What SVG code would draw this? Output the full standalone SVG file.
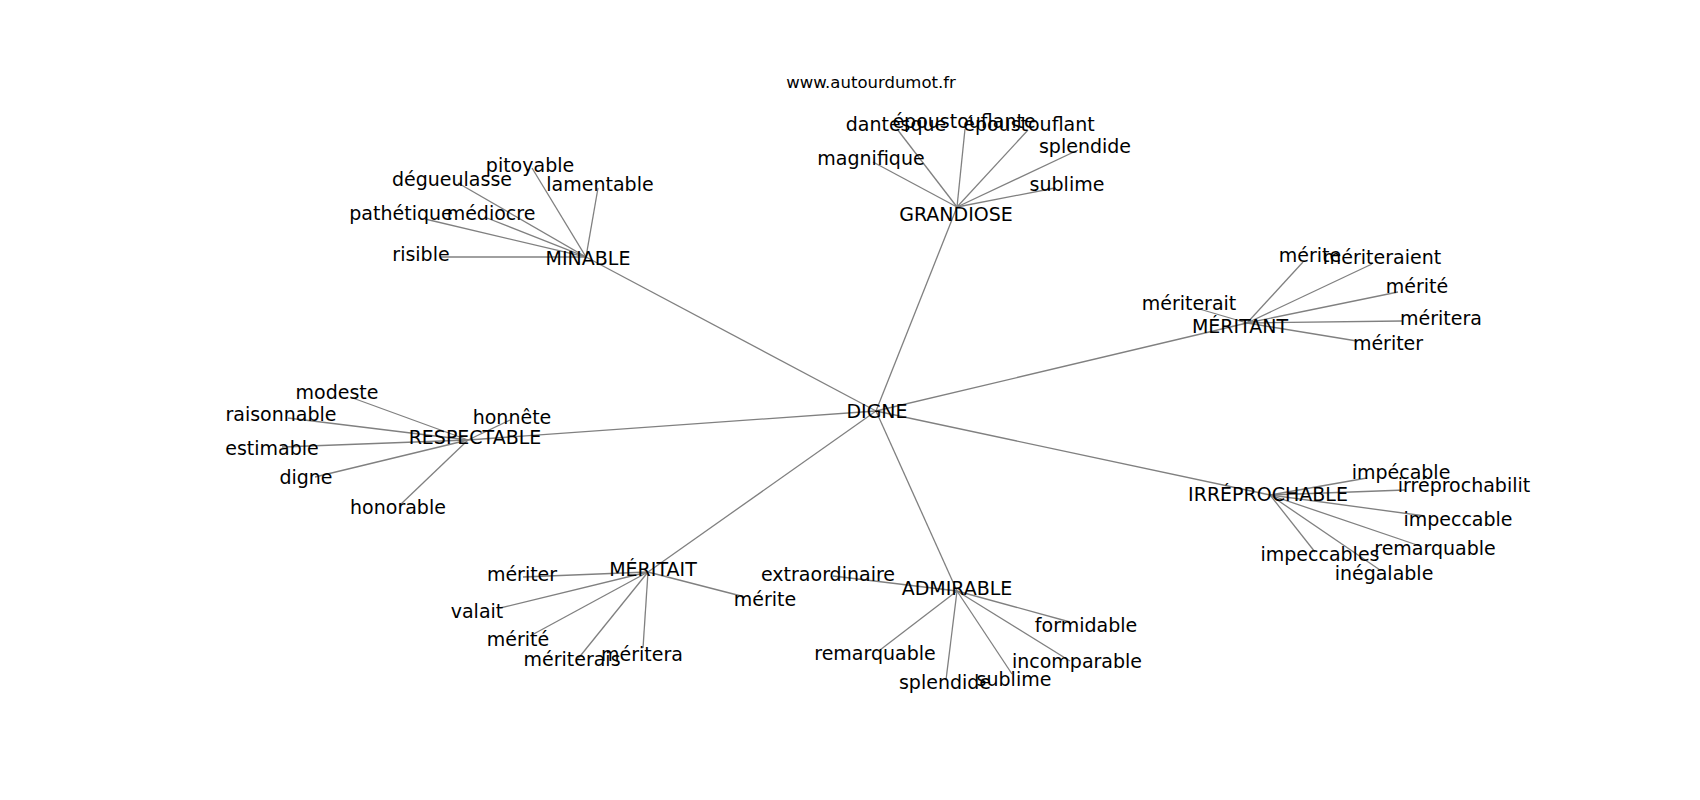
<svg xmlns="http://www.w3.org/2000/svg" width="1700" height="800" viewBox="0 0 1700 800">
<style>
text{font-family:"DejaVu Sans","Liberation Sans",sans-serif;font-size:19px;fill:#000;text-anchor:middle}
.title{font-size:16.5px}
#edges line{stroke:#808080;stroke-width:1.3}
</style>
<rect width="1700" height="800" fill="#fff"/>
<g id="edges">
<line x1="876" y1="411" x2="957" y2="207"/>
<line x1="876" y1="411" x2="586" y2="257"/>
<line x1="876" y1="411" x2="1247" y2="323"/>
<line x1="876" y1="411" x2="1270" y2="495"/>
<line x1="876" y1="411" x2="468" y2="440"/>
<line x1="876" y1="411" x2="648" y2="572"/>
<line x1="876" y1="411" x2="957" y2="591"/>
<line x1="957" y1="207" x2="897" y2="129"/>
<line x1="957" y1="207" x2="965" y2="129"/>
<line x1="957" y1="207" x2="1028" y2="130"/>
<line x1="957" y1="207" x2="1078" y2="150"/>
<line x1="957" y1="207" x2="1055" y2="188"/>
<line x1="957" y1="207" x2="873" y2="162"/>
<line x1="586" y1="257" x2="532" y2="168"/>
<line x1="586" y1="257" x2="598" y2="188"/>
<line x1="586" y1="257" x2="458" y2="183"/>
<line x1="586" y1="257" x2="425" y2="219"/>
<line x1="586" y1="257" x2="487" y2="218"/>
<line x1="586" y1="257" x2="440" y2="257"/>
<line x1="1247" y1="323" x2="1303" y2="262"/>
<line x1="1247" y1="323" x2="1372" y2="264"/>
<line x1="1247" y1="323" x2="1398" y2="292"/>
<line x1="1247" y1="323" x2="1402" y2="321"/>
<line x1="1247" y1="323" x2="1357" y2="341"/>
<line x1="1247" y1="323" x2="1196" y2="308"/>
<line x1="1270" y1="495" x2="1367" y2="478"/>
<line x1="1270" y1="495" x2="1405" y2="490"/>
<line x1="1270" y1="495" x2="1425" y2="516"/>
<line x1="1270" y1="495" x2="1420" y2="546"/>
<line x1="1270" y1="495" x2="1315" y2="552"/>
<line x1="1270" y1="495" x2="1380" y2="570"/>
<line x1="468" y1="440" x2="350" y2="397"/>
<line x1="468" y1="440" x2="288" y2="418"/>
<line x1="468" y1="440" x2="510" y2="420"/>
<line x1="468" y1="440" x2="282" y2="447"/>
<line x1="468" y1="440" x2="315" y2="477"/>
<line x1="468" y1="440" x2="400" y2="505"/>
<line x1="648" y1="572" x2="523" y2="577"/>
<line x1="648" y1="572" x2="500" y2="608"/>
<line x1="648" y1="572" x2="530" y2="636"/>
<line x1="648" y1="572" x2="577" y2="660"/>
<line x1="648" y1="572" x2="643" y2="648"/>
<line x1="648" y1="572" x2="745" y2="597"/>
<line x1="957" y1="591" x2="833" y2="576"/>
<line x1="957" y1="591" x2="1070" y2="622"/>
<line x1="957" y1="591" x2="880" y2="650"/>
<line x1="957" y1="591" x2="946" y2="680"/>
<line x1="957" y1="591" x2="1012" y2="674"/>
<line x1="957" y1="591" x2="1070" y2="661"/>
</g>
<text class="title" x="871" y="88">www.autourdumot.fr</text>
<g id="n-digne"><text x="877" y="418">DIGNE</text></g>
<g id="n-grandiose"><text x="956" y="221">GRANDIOSE</text></g>
<g id="n-dantesque"><text x="896" y="131">dantesque</text></g>
<g id="n-epoustouflante"><text x="964" y="128">époustouflante</text></g>
<g id="n-epoustouflant"><text x="1029" y="131">époustouflant</text></g>
<g id="n-splendide1"><text x="1085" y="153">splendide</text></g>
<g id="n-sublime1"><text x="1067" y="191">sublime</text></g>
<g id="n-magnifique"><text x="871" y="165">magnifique</text></g>
<g id="n-minable"><text x="588" y="265">MINABLE</text></g>
<g id="n-pitoyable"><text x="530" y="172">pitoyable</text></g>
<g id="n-lamentable"><text x="600" y="191">lamentable</text></g>
<g id="n-degueulasse"><text x="452" y="186">dégueulasse</text></g>
<g id="n-pathetique"><text x="401" y="220">pathétique</text></g>
<g id="n-mediocre"><text x="491" y="220">médiocre</text></g>
<g id="n-risible"><text x="421" y="261">risible</text></g>
<g id="n-meritant"><text x="1240" y="333">MÉRITANT</text></g>
<g id="n-merite1"><text x="1310" y="262">mérite</text></g>
<g id="n-meriteraient"><text x="1382" y="264">mériteraient</text></g>
<g id="n-merite-acc1"><text x="1417" y="293">mérité</text></g>
<g id="n-meritera1"><text x="1441" y="325">méritera</text></g>
<g id="n-meriter1"><text x="1388" y="350">mériter</text></g>
<g id="n-meriterait"><text x="1189" y="310">mériterait</text></g>
<g id="n-irreprochable"><text x="1268" y="501">IRRÉPROCHABLE</text></g>
<g id="n-impecable"><text x="1401" y="479">impécable</text></g>
<g id="n-irreprochabilit"><text x="1464" y="492">irréprochabilit</text></g>
<g id="n-impeccable"><text x="1458" y="526">impeccable</text></g>
<g id="n-remarquable1"><text x="1435" y="555">remarquable</text></g>
<g id="n-impeccables"><text x="1320" y="561">impeccables</text></g>
<g id="n-inegalable"><text x="1384" y="580">inégalable</text></g>
<g id="n-respectable"><text x="475" y="444">RESPECTABLE</text></g>
<g id="n-modeste"><text x="337" y="399">modeste</text></g>
<g id="n-raisonnable"><text x="281" y="421">raisonnable</text></g>
<g id="n-honnete"><text x="512" y="424">honnête</text></g>
<g id="n-estimable"><text x="272" y="455">estimable</text></g>
<g id="n-digne"><text x="306" y="484">digne</text></g>
<g id="n-honorable"><text x="398" y="514">honorable</text></g>
<g id="n-meritait"><text x="653" y="576">MÉRITAIT</text></g>
<g id="n-meriter2"><text x="522" y="581">mériter</text></g>
<g id="n-valait"><text x="477" y="618">valait</text></g>
<g id="n-merite-acc2"><text x="518" y="646">mérité</text></g>
<g id="n-meriterais"><text x="572" y="666">mériterais</text></g>
<g id="n-meritera2"><text x="642" y="661">méritera</text></g>
<g id="n-merite2"><text x="765" y="606">mérite</text></g>
<g id="n-admirable"><text x="957" y="595">ADMIRABLE</text></g>
<g id="n-extraordinaire"><text x="828" y="581">extraordinaire</text></g>
<g id="n-formidable"><text x="1086" y="632">formidable</text></g>
<g id="n-remarquable2"><text x="875" y="660">remarquable</text></g>
<g id="n-splendide2"><text x="945" y="689">splendide</text></g>
<g id="n-sublime2"><text x="1014" y="686">sublime</text></g>
<g id="n-incomparable"><text x="1077" y="668">incomparable</text></g>
</svg>
